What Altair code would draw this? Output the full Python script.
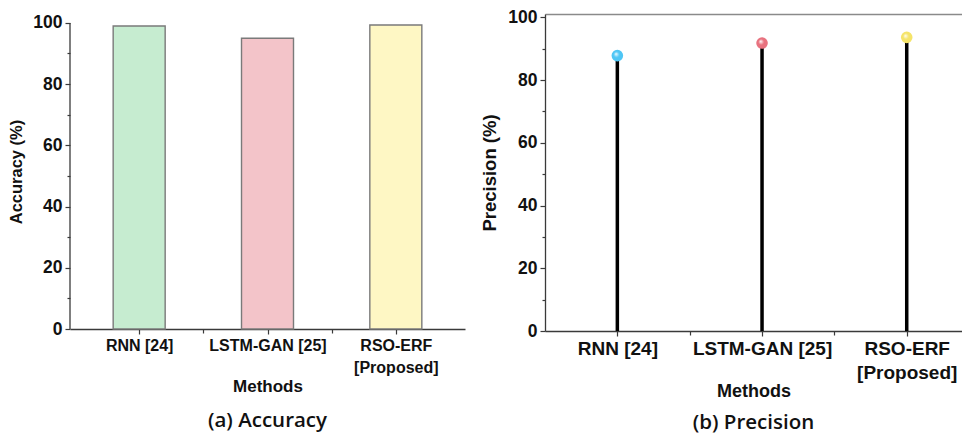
import json
import altair as alt
import pandas as pd

# ---- data ----
methods = ["RNN [24]", "LSTM-GAN [25]", "RSO-ERF [Proposed]"]
method_lines = [["RNN [24]"], ["LSTM-GAN [25]"], ["RSO-ERF", "[Proposed]"]]
accuracy = [99.0, 95.0, 99.3]
precision = [87.8, 91.8, 93.6]
bar_colors = ["#C6ECD0", "#F3C4C9", "#FEF7C4"]
dot_colors = ["#4FC6F5", "#E8727F", "#F5E46A"]
y_tick_values = [0, 10, 20, 30, 40, 50, 60, 70, 80, 90, 100]
x_tick_values = [0, 0.5, 1, 1.5, 2]

df = pd.DataFrame({
    "method": methods,
    "idx": list(range(len(methods))),
    "accuracy": accuracy,
    "precision": precision,
})
axis_line = pd.DataFrame({"y0": [0], "y1": [100]})

FONT = "Liberation Sans"
CAP_FONT = "Open Sans"
AX = "#3a3a3a"
TXT = "#111111"

x_label_expr = f"datum.value % 1 === 0 ? {json.dumps(method_lines)}[datum.value] : ''"
y_label_expr = "datum.value % 20 === 0 ? datum.label : ''"


def x_axis(label_size, title_size, line_h, title_pad):
    return alt.Axis(
        values=x_tick_values, labelExpr=x_label_expr, title="Methods",
        tickSize={"condition": {"test": "datum.value % 1 === 0", "value": 5}, "value": 4},
        labelFont=FONT, labelFontWeight="bold", labelFontSize=label_size, labelColor=TXT,
        labelLineHeight=line_h, labelPadding=3, labelAngle=0,
        titleFont=FONT, titleFontWeight="bold", titleFontSize=title_size, titleColor=TXT,
        titlePadding=title_pad, grid=False, domainColor=AX, tickColor=AX,
        domainWidth=1.3, tickWidth=1.2,
    )


def y_axis(title, label_size, title_size, domain=True):
    return alt.Axis(
        values=y_tick_values, labelExpr=y_label_expr, title=title,
        tickSize={"condition": {"test": "datum.value % 20 === 0", "value": 5}, "value": 3},
        labelFont=FONT, labelFontWeight="bold", labelFontSize=label_size, labelColor=TXT,
        labelPadding=3, titleFont=FONT, titleFontWeight="bold", titleFontSize=title_size,
        titleColor=TXT, titlePadding=8, grid=False, domain=domain,
        domainColor=AX, tickColor=AX, domainWidth=1.3, tickWidth=1.2,
    )


# ---- (a) Accuracy ----
xl_scale = alt.Scale(domain=[-0.5, 2.5], nice=False, zero=False)
yl_scale = alt.Scale(domain=[0, 102.9], nice=False)
yl_axis = y_axis("Accuracy (%)", 17.5, 16.5, domain=False)

bars = alt.Chart(df).mark_bar(size=52, stroke="#7a7a7a", strokeWidth=1.4).encode(
    x=alt.X("idx:Q", scale=xl_scale, axis=x_axis(16, 17, 22, 3)),
    y=alt.Y("accuracy:Q", scale=yl_scale, axis=yl_axis),
    color=alt.Color("method:N", scale=alt.Scale(domain=methods, range=bar_colors), legend=None),
)
left_axis_rule = alt.Chart(axis_line).mark_rule(color=AX, strokeWidth=1.3).encode(
    x=alt.value(0),
    y=alt.Y("y0:Q", scale=yl_scale, axis=yl_axis),
    y2="y1:Q",
)
left = alt.layer(bars, left_axis_rule).properties(
    width=395, height=315,
    title=alt.TitleParams("(a) Accuracy", orient="bottom", frame="group", font=CAP_FONT,
                          fontSize=20.5, fontWeight=600, color=TXT, offset=17),
)

# ---- (b) Precision ----
xr_scale = alt.Scale(domain=[-0.5, 2.382], nice=False, zero=False)
yr_scale = alt.Scale(domain=[0, 101.05], nice=False)
yr_axis = y_axis("Precision (%)", 17.5, 18.5)

stems = alt.Chart(df).mark_rule(color="black", strokeWidth=3.5).encode(
    x=alt.X("idx:Q", scale=xr_scale, axis=x_axis(19, 18, 24, 0)),
    y=alt.Y("precision:Q", scale=yr_scale, axis=yr_axis),
    y2=alt.datum(0),
)
frame_top = alt.Chart(df).mark_point(opacity=0).encode(
    x=alt.X("idx:Q", scale=xr_scale,
            axis=alt.Axis(orient="top", labels=False, ticks=False, title=None,
                          domainColor="#8a8a8a", domainWidth=1.5, grid=False)),
    y=alt.Y("precision:Q", scale=yr_scale, axis=yr_axis),
)
dots = []
for i, c in enumerate(dot_colors):
    grad = {
        "gradient": "radial", "x1": 0.38, "y1": 0.35, "r1": 0.0,
        "x2": 0.5, "y2": 0.5, "r2": 0.55,
        "stops": [{"offset": 0.0, "color": "#ffffff"},
                  {"offset": 0.45, "color": c},
                  {"offset": 1.0, "color": c}],
    }
    dots.append(
        alt.Chart(df).transform_filter(alt.datum.idx == i)
        .mark_circle(size=135, opacity=1, fill=grad)
        .encode(
            x=alt.X("idx:Q", scale=xr_scale, axis=None),
            y=alt.Y("precision:Q", scale=yr_scale, axis=yr_axis),
        )
    )
right = alt.layer(stems, frame_top, *dots).resolve_axis(x="independent").properties(
    width=417, height=317,
    title=alt.TitleParams("(b) Precision", orient="bottom", frame="group", font=CAP_FONT,
                          fontSize=20.5, fontWeight=600, color=TXT, offset=13),
)

chart = alt.hconcat(left, right, spacing=15).properties(
    padding={"left": 0, "top": 0, "right": 0, "bottom": 0},
    background="white",
).configure_view(stroke=None)

chart.save("out.html", embed_options={"renderer": "svg", "actions": False})
